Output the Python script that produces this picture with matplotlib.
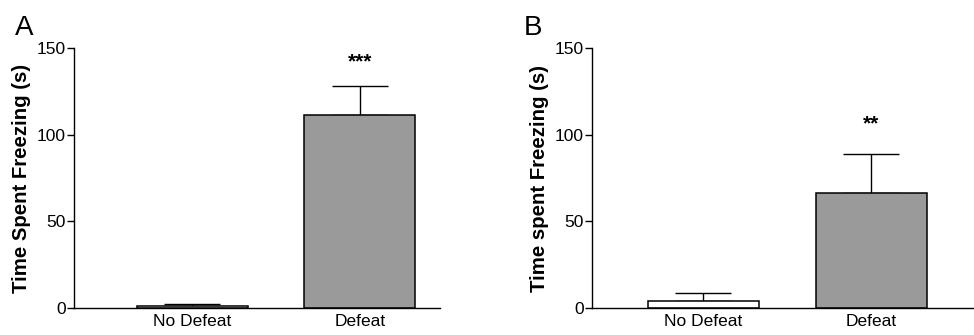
import matplotlib
matplotlib.use("Agg")
import matplotlib.pyplot as plt

plt.rcParams['font.family'] = ['Liberation Sans', 'DejaVu Sans']

groups = ["No Defeat", "Defeat"]
# panel A
a_means = [1.2, 111.2]
a_sem = [1.3, 17.0]
a_sig = "***"
# panel B
b_means = [4.2, 66.5]
b_sem = [4.6, 22.5]
b_sig = "**"

bar_colors = ["white", "#999a99"]


def draw_panel(ax, means, sem, sig, sig_gap, ylabel, letter, letter_x, xlim):
    pos = list(range(len(groups)))
    ax.bar(pos, means, width=0.663, color=bar_colors, edgecolor="black",
           linewidth=1.1, zorder=2)
    ax.errorbar(pos, means, yerr=[[0] * len(sem), sem], fmt="none",
                ecolor="black", elinewidth=1.0, capsize=20, capthick=1.0, zorder=1)
    top = means[1] + sem[1]
    ax.text(1, top + sig_gap, sig, ha="center", va="center", fontsize=15,
            fontweight="bold")
    ax.set_xlim(*xlim)
    ax.set_ylim(0, 150)
    ax.set_yticks([0, 50, 100, 150])
    ax.set_xticks(pos)
    ax.set_xticklabels(groups, fontsize=12.5)
    ax.tick_params(axis="x", length=0, pad=4)
    ax.tick_params(axis="y", length=5, width=1.0, labelsize=12.5, pad=1)
    ax.spines["top"].set_visible(False)
    ax.spines["right"].set_visible(False)
    ax.spines["left"].set_linewidth(1.0)
    ax.spines["bottom"].set_linewidth(1.0)
    ax.set_ylabel(ylabel, fontsize=14.7, fontweight="bold", labelpad=4)
    ax.text(letter_x, 1.05, letter, transform=ax.transAxes, fontsize=20,
            ha="left", va="baseline")


fig = plt.figure(figsize=(9.74, 3.35), dpi=100)
ax_a = fig.add_axes([74 / 974, 27 / 335, 366 / 974, 260 / 335])
ax_b = fig.add_axes([592 / 974, 27 / 335, 382 / 974, 260 / 335])

draw_panel(ax_a, a_means, a_sem, a_sig, 14, "Time Spent Freezing (s)", "A", -0.162,
           (-0.707, 1.478))
draw_panel(ax_b, b_means, b_sem, b_sig, 17.5, "Time spent Freezing (s)", "B", -0.178,
           (-0.664, 1.611))

fig.savefig("out.png", dpi=100)
